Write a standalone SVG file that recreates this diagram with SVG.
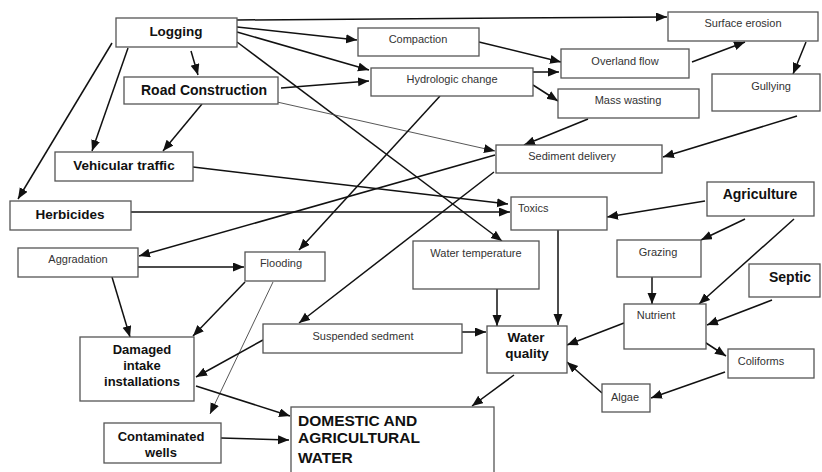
<svg xmlns="http://www.w3.org/2000/svg" width="822" height="472" viewBox="0 0 822 472">
  <defs>
    <marker id="arrow" markerUnits="userSpaceOnUse" markerWidth="12" markerHeight="10" refX="11" refY="4.5" orient="auto">
      <path d="M0,0 L11,4.5 L0,9 z" fill="#111"/>
    </marker>
    <style>
      .box { fill: #fff; stroke: #555; stroke-width: 1.3; }
      .b { font-family: "Liberation Sans", Arial, sans-serif; font-weight: bold; fill: #111; text-anchor: middle; }
      .r { font-family: "Liberation Sans", Arial, sans-serif; font-size: 11px; fill: #333; text-anchor: middle; }
      .c { fill: none; stroke: #111; stroke-width: 1.5; marker-end: url(#arrow); }
      .thin { stroke: #444; stroke-width: 0.9; }
    </style>
  </defs>
  <rect width="822" height="472" fill="#fff"/>

  <!-- connectors -->
  <g id="connectors">
    <line class="c" x1="237" y1="20" x2="667" y2="17"/>
    <line class="c" x1="237" y1="27" x2="357" y2="40"/>
    <line class="c" x1="237" y1="32" x2="369" y2="70"/>
    <line class="c" x1="237" y1="42" x2="502" y2="241"/>
    <line class="c" x1="191" y1="51" x2="198" y2="75"/>
    <line class="c" x1="128" y1="48" x2="92" y2="151"/>
    <line class="c" x1="112" y1="43" x2="18" y2="199"/>
    <line class="c" x1="202" y1="104" x2="163" y2="151"/>
    <line class="c" x1="281" y1="88" x2="369" y2="81"/>
    <line class="c thin" x1="277" y1="102" x2="495" y2="151"/>
    <line class="c" x1="479" y1="42" x2="561" y2="62"/>
    <line class="c" x1="533" y1="72" x2="559" y2="72"/>
    <line class="c" x1="533" y1="85" x2="558" y2="101"/>
    <line class="c" x1="440" y1="96" x2="299" y2="250"/>
    <line class="c" x1="692" y1="62" x2="745" y2="42"/>
    <line class="c" x1="806" y1="42" x2="793" y2="74"/>
    <line class="c" x1="588" y1="119" x2="524" y2="145"/>
    <line class="c" x1="797" y1="116" x2="663" y2="157"/>
    <line class="c" x1="193" y1="167" x2="508" y2="204"/>
    <line class="c" x1="131" y1="212" x2="510" y2="212"/>
    <line class="c" x1="495" y1="155" x2="139" y2="256"/>
    <line class="c" x1="494" y1="172" x2="299" y2="323"/>
    <line class="c" x1="705" y1="201" x2="607" y2="217"/>
    <line class="c" x1="745" y1="219" x2="701" y2="240"/>
    <line class="c" x1="794" y1="219" x2="699" y2="304"/>
    <line class="c" x1="652" y1="277" x2="652" y2="304"/>
    <line class="c" x1="772" y1="300" x2="707" y2="325"/>
    <line class="c" x1="558" y1="230" x2="558" y2="325"/>
    <line class="c" x1="497" y1="289" x2="497" y2="326"/>
    <line class="c" x1="624" y1="323" x2="567" y2="345"/>
    <line class="c" x1="703" y1="341" x2="726" y2="356"/>
    <line class="c" x1="725" y1="372" x2="651" y2="398"/>
    <line class="c" x1="602" y1="393" x2="567" y2="362"/>
    <line class="c" x1="462" y1="332" x2="486" y2="332"/>
    <line class="c" x1="514" y1="375" x2="472" y2="406"/>
    <line class="c" x1="138" y1="267" x2="244" y2="267"/>
    <line class="c" x1="112" y1="277" x2="130" y2="337"/>
    <line class="c" x1="245" y1="282" x2="193" y2="336"/>
    <line class="c thin" x1="273" y1="282" x2="210" y2="414"/>
    <line class="c" x1="263" y1="340" x2="196" y2="377"/>
    <line class="c" x1="196" y1="386" x2="290" y2="416"/>
    <line class="c" x1="221" y1="438" x2="289" y2="440"/>
  </g>

  <!-- nodes -->
  <g id="logging"><rect class="box" x="116" y="18" width="121" height="29"/><text class="b" x="176" y="36" font-size="13.5">Logging</text></g>
  <g id="road-construction"><rect class="box" x="124" y="77" width="154" height="27"/><text class="b" x="204" y="95" font-size="14">Road Construction</text></g>
  <g id="vehicular-traffic"><rect class="box" x="55" y="152" width="138" height="29"/><text class="b" x="124" y="170" font-size="13.5">Vehicular traffic</text></g>
  <g id="herbicides"><rect class="box" x="10" y="201" width="121" height="29"/><text class="b" x="70" y="219" font-size="13.5">Herbicides</text></g>
  <g id="aggradation"><rect class="box" x="18" y="248" width="120" height="29"/><text class="r" x="78" y="263">Aggradation</text></g>
  <g id="flooding"><rect class="box" x="245" y="252" width="80" height="29"/><text class="r" x="281" y="267">Flooding</text></g>
  <g id="water-temperature"><rect class="box" x="413" y="241" width="126" height="48"/><text class="r" x="476" y="257">Water temperature</text></g>
  <g id="toxics"><rect class="box" x="511" y="197" width="96" height="33"/><text class="r" x="518" y="212" style="text-anchor:start">Toxics</text></g>
  <g id="sediment-delivery"><rect class="box" x="496" y="145" width="166" height="28"/><text class="r" x="572" y="160">Sediment delivery</text></g>
  <g id="compaction"><rect class="box" x="358" y="28" width="121" height="28"/><text class="r" x="418" y="43">Compaction</text></g>
  <g id="hydrologic-change"><rect class="box" x="371" y="68" width="162" height="28"/><text class="r" x="452" y="83">Hydrologic change</text></g>
  <g id="surface-erosion"><rect class="box" x="668" y="12" width="150" height="29"/><text class="r" x="743" y="27">Surface erosion</text></g>
  <g id="overland-flow"><rect class="box" x="561" y="49" width="128" height="29"/><text class="r" x="625" y="65">Overland flow</text></g>
  <g id="mass-wasting"><rect class="box" x="558" y="89" width="141" height="29"/><text class="r" x="628" y="104">Mass wasting</text></g>
  <g id="gullying"><rect class="box" x="712" y="74" width="108" height="37"/><text class="r" x="771" y="90">Gullying</text></g>
  <g id="agriculture"><rect class="box" x="707" y="182" width="107" height="34"/><text class="b" x="760" y="199" font-size="14">Agriculture</text></g>
  <g id="grazing"><rect class="box" x="617" y="240" width="84" height="37"/><text class="r" x="658" y="256">Grazing</text></g>
  <g id="septic"><rect class="box" x="749" y="264" width="71" height="33"/><text class="b" x="790" y="282" font-size="14">Septic</text></g>
  <g id="nutrient"><rect class="box" x="624" y="304" width="82" height="45"/><text class="r" x="656" y="319">Nutrient</text></g>
  <g id="coliforms"><rect class="box" x="728" y="349" width="86" height="29"/><text class="r" x="761" y="365">Coliforms</text></g>
  <g id="algae"><rect class="box" x="602" y="384" width="48" height="28"/><text class="r" x="625" y="401">Algae</text></g>
  <g id="water-quality"><rect class="box" x="487" y="326" width="80" height="47"/><text class="b" x="526" y="342" font-size="13.5">Water</text><text class="b" x="527" y="358" font-size="13.5">quality</text></g>
  <g id="suspended-sediment"><rect class="box" x="263" y="324" width="199" height="29"/><text class="r" x="363" y="340">Suspended sedment</text></g>
  <g id="domestic-agricultural-water"><rect class="box" x="291" y="407" width="203" height="75"/>
    <text class="b" x="298" y="426" font-size="15.5" style="text-anchor:start">DOMESTIC AND</text>
    <text class="b" x="298" y="443" font-size="15.5" style="text-anchor:start">AGRICULTURAL</text>
    <text class="b" x="298" y="463" font-size="15.5" style="text-anchor:start">WATER</text></g>
  <g id="damaged-intake"><rect class="box" x="80" y="337" width="114" height="64"/>
    <text class="b" x="142" y="354" font-size="13">Damaged</text>
    <text class="b" x="142" y="370" font-size="13">intake</text>
    <text class="b" x="142" y="386" font-size="13">installations</text></g>
  <g id="contaminated-wells"><rect class="box" x="104" y="423" width="117" height="40"/>
    <text class="b" x="161" y="441" font-size="13">Contaminated</text>
    <text class="b" x="161" y="457" font-size="13">wells</text></g>
</svg>
